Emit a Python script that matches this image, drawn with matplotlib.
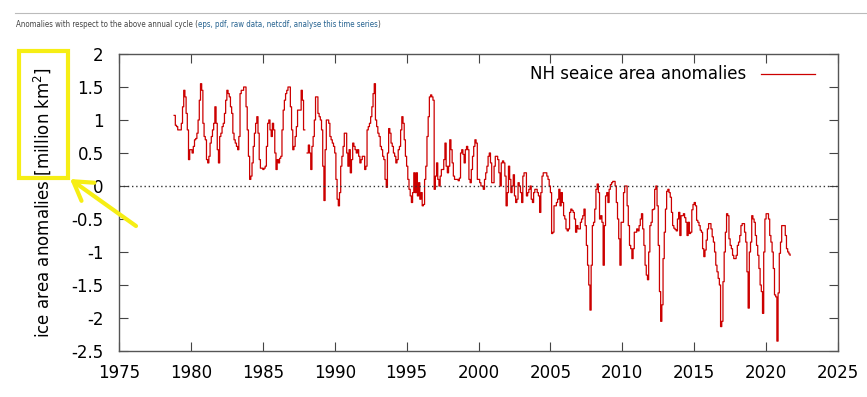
import numpy as np
import matplotlib
matplotlib.use("Agg")
import matplotlib.pyplot as plt
from matplotlib import font_manager
from matplotlib.patches import Rectangle, FancyArrowPatch

# monthly NH sea ice area anomalies [million km2]
first_year = 1978
first_month = 11
anomaly = [
    1.07, 0.92,                                                                # 1978 Nov-Dec
    0.9, 0.85, 0.85, 0.85, 0.95, 1.2, 1.45, 1.35, 1.1, 0.85, 0.4, 0.55,        # 1979
    0.55, 0.5, 0.6, 0.7, 0.72, 0.8, 1.0, 1.3, 1.55, 1.45, 0.95, 0.75,          # 1980
    0.7, 0.4, 0.35, 0.45, 0.65, 0.75, 0.85, 0.95, 1.2, 0.95, 0.55, 0.35,       # 1981
    0.75, 0.8, 0.9, 0.95, 1.1, 1.3, 1.45, 1.4, 1.35, 1.2, 1.1, 0.8,            # 1982
    0.7, 0.65, 0.6, 0.55, 0.75, 1.4, 1.45, 1.45, 1.5, 1.5, 1.2, 0.85,          # 1983
    0.45, 0.1, 0.15, 0.35, 0.6, 0.8, 0.95, 1.05, 0.8, 0.4, 0.27, 0.27,         # 1984
    0.25, 0.27, 0.3, 0.6, 0.95, 1.0, 0.85, 0.75, 0.95, 0.85, 0.5, 0.25,        # 1985
    0.4, 0.35, 0.42, 0.45, 0.85, 1.15, 1.3, 1.4, 1.45, 1.5, 1.5, 1.2,          # 1986
    0.85, 0.55, 0.6, 0.75, 0.9, 1.15, 1.15, 1.15, 1.45, 1.3, 0.85, np.nan,     # 1987
    np.nan, 0.5, 0.62, 0.5, 0.25, 0.6, 0.75, 1.0, 1.35, 1.35, 1.1, 1.05,       # 1988
    1.0, 0.85, 0.3, -0.22, 0.55, 1.0, 1.0, 0.95, 0.75, 0.7, 0.65, 0.6,         # 1989
    0.5, 0.1, -0.2, -0.3, -0.1, 0.3, 0.45, 0.6, 0.8, 0.8, 0.5, 0.3,            # 1990
    0.55, 0.2, 0.4, 0.65, 0.6, 0.55, 0.5, 0.55, 0.45, 0.35, 0.4, 0.45,         # 1991
    0.45, 0.25, 0.3, 0.85, 0.9, 0.95, 1.05, 1.2, 1.4, 1.55, 1.0, 0.9,          # 1992
    0.8, 0.75, 0.6, 0.55, 0.45, 0.4, 0.1, -0.02, 0.5, 0.87, 0.8, 0.65,         # 1993
    0.6, 0.5, 0.45, 0.35, 0.4, 0.55, 0.6, 0.85, 1.05, 0.95, 0.7, 0.45,         # 1994
    0.3, 0.1, -0.05, -0.15, -0.25, -0.1, 0.2, -0.1, 0.2, -0.15, 0.05, -0.2,    # 1995
    -0.1, -0.3, -0.28, 0.1, 0.3, 0.75, 1.05, 1.35, 1.38, 1.35, 1.3, -0.05,     # 1996
    0.15, 0.35, 0.1, 0.0, 0.15, 0.25, 0.25, 0.4, 0.65, 0.3, 0.2, 0.3,          # 1997
    0.7, 0.55, 0.35, 0.15, 0.1, 0.1, 0.1, 0.08, 0.12, 0.5, 0.55, 0.48,         # 1998
    0.35, 0.55, 0.6, 0.55, 0.1, 0.05, 0.25, 0.45, 0.6, 0.7, 0.65, 0.1,         # 1999
    0.1, 0.05, 0.0, 0.0, -0.05, 0.1, 0.2, 0.3, 0.45, 0.5, 0.35, 0.05,          # 2000
    0.05, 0.3, 0.45, 0.45, 0.4, 0.2, 0.0, 0.35, 0.38, 0.35, 0.15, -0.3,        # 2001
    -0.1, 0.3, 0.1, -0.1, 0.0, 0.17, -0.15, -0.25, -0.2, 0.05, 0.0, -0.1,      # 2002
    -0.25, 0.15, 0.2, 0.2, -0.15, -0.1, -0.05, 0.0, -0.2, -0.25, -0.1, -0.05,  # 2003
    -0.05, -0.1, -0.15, -0.4, -0.1, 0.15, 0.2, 0.2, 0.2, 0.15, 0.1, 0.0,       # 2004
    -0.1, -0.72, -0.7, -0.3, -0.3, -0.25, -0.2, -0.05, -0.3, -0.1, -0.25, -0.45,   # 2005
    -0.5, -0.65, -0.68, -0.65, -0.4, -0.35, -0.37, -0.4, -0.5, -0.7, -0.6, -0.65,  # 2006
    -0.65, -0.55, -0.5, -0.45, -0.35, -0.6, -0.9, -1.2, -1.5, -1.88, -1.2, -0.6,   # 2007
    -0.55, -0.35, -0.05, 0.03, -0.1, -0.5, -0.45, -0.55, -1.2, -0.6, -0.15, -0.1,  # 2008
    -0.25, -0.05, 0.02, 0.05, 0.07, 0.07, 0.0, -0.25, -0.5, -0.8, -1.2, -0.55,     # 2009
    -0.55, -0.1, 0.0, 0.0, -0.3, -0.6, -0.9, -0.95, -1.1, -0.95, -0.7, -0.7,       # 2010
    -0.65, -0.68, -0.6, -0.5, -0.42, -0.65, -0.9, -1.2, -1.35, -1.42, -1.0, -0.6,  # 2011
    -0.55, -0.36, -0.35, -0.05, 0.0, -0.3, -0.9, -1.6, -2.05, -1.8, -1.1, -0.7,    # 2012
    -0.35, -0.08, -0.05, -0.1, -0.17, -0.4, -0.6, -0.64, -0.66, -0.68, -0.5, -0.4, # 2013
    -0.75, -0.45, -0.45, -0.42, -0.48, -0.55, -0.75, -0.55, -0.72, -0.7, -0.36, -0.28,  # 2014
    -0.25, -0.3, -0.52, -0.55, -0.6, -0.67, -0.7, -0.95, -1.07, -0.97, -0.82, -0.65,    # 2015
    -0.57, -0.57, -0.65, -0.77, -0.85, -1.0, -1.2, -1.3, -1.4, -1.5, -2.13, -2.05,      # 2016
    -1.45, -1.0, -0.7, -0.42, -0.45, -0.8, -0.9, -0.95, -1.05, -1.1, -1.1, -1.05,       # 2017
    -0.9, -0.85, -0.75, -0.6, -0.57, -0.57, -0.7, -0.85, -1.3, -1.85, -1.0, -0.85,      # 2018
    -0.45, -0.5, -0.55, -0.75, -0.9, -1.05, -1.25, -1.5, -1.6, -1.93, -1.0, -0.5,       # 2019
    -0.42, -0.42, -0.5, -0.75, -0.85, -1.0, -1.25, -1.65, -1.68, -2.35, -1.62, -1.02,   # 2020
    -0.85, -0.6, -0.6, -0.6, -0.75, -0.95, -1.0, -1.03, -1.05,                          # 2021
]

x_ticks = [1975, 1980, 1985, 1990, 1995, 2000, 2005, 2010, 2015, 2020, 2025]
y_ticks = [-2.5, -2, -1.5, -1, -0.5, 0, 0.5, 1, 1.5, 2]
y_tick_labels = ["-2.5", "-2", "-1.5", "-1", "-0.5", "0", "0.5", "1", "1.5", "2"]
series_label = "NH seaice area anomalies"
y_label = "ice area anomalies [million km$^2$]"
header = ["Anomalies with respect to the above annual cycle (",
          "eps, pdf, raw data, netcdf, analyse this time series", ")"]

W, H = 867, 397
fig = plt.figure(figsize=(W / 100, H / 100), dpi=100)
fig.patch.set_facecolor("white")


def fx(px):
    return px / W


def fy(py):
    return 1 - py / H


ax = fig.add_axes([fx(119), fy(351), (838 - 119) / W, (351 - 54) / H])

vals = np.array(anomaly, dtype=float)
t = first_year + (first_month - 1) / 12 + np.arange(len(vals)) / 12
ax.plot(t, vals, drawstyle="steps-post", color="#cc0000", lw=0.9, label=series_label)
ax.axhline(0, color="#333333", lw=1, ls=(0, (1, 2)))

ax.set_xlim(1975, 2025)
ax.set_ylim(-2.5, 2)
ax.set_xticks(x_ticks)
ax.set_yticks(y_ticks)
ax.set_yticklabels(y_tick_labels)
ax.tick_params(direction="in", length=6.5, width=0.8, color="#444444",
               top=True, right=True, labelsize=12, labelcolor="black")
ax.tick_params(axis="x", pad=9)
ax.tick_params(axis="y", pad=11)
for sp in ax.spines.values():
    sp.set_color("#555555")
    sp.set_linewidth(1)

leg = ax.legend(loc="upper right", bbox_to_anchor=(1 - 20 / 719, 1 - 8 / 297),
                frameon=False, markerfirst=False, fontsize=12,
                handlelength=3.2, handletextpad=0.9, borderaxespad=0, borderpad=0.2)

fig.text(fx(42), fy(203), y_label, rotation=90, ha="center", va="center", fontsize=12)

# header line and caption above the plot, in a narrow face if one is installed
fig.add_artist(plt.Line2D([fx(15), fx(867)], [fy(13), fy(13)], color="#bbbbbb", lw=0.8))
head_font, head_stretch = "Open Sans", "normal"
for f in font_manager.fontManager.ttflist:
    if "Narrow" in f.name or "Condensed" in f.name or f.stretch in ("condensed", "semi-condensed"):
        head_font, head_stretch = f.name, f.stretch
        break
renderer = fig.canvas.get_renderer()
parts = []
for part, col in zip(header, ["#444444", "#24618f", "#444444"]):
    parts.append(fig.text(0, fy(27), part, fontsize=7.2, family=head_font,
                          fontstretch=head_stretch, color=col, va="baseline"))
total = sum(p.get_window_extent(renderer).width for p in parts)
size = min(7.2, 7.2 * 369 / total)
xpos = fx(16)
for p in parts:
    p.set_fontsize(size)
    p.set_x(xpos)
    xpos += p.get_window_extent(renderer).width / W

# yellow highlight box and arrow
fig.add_artist(Rectangle((fx(19), fy(178)), (68 - 19) / W, (178 - 51) / H,
                         transform=fig.transFigure, fill=False, ec="#f6ee14", lw=3))
fig.add_artist(FancyArrowPatch((fx(136), fy(226)), (fx(70), fy(179)), transform=fig.transFigure,
                               arrowstyle="->,head_length=13,head_width=8",
                               color="#f6ee14", lw=3, shrinkA=0, shrinkB=0))

fig.savefig("out.png", dpi=100)
